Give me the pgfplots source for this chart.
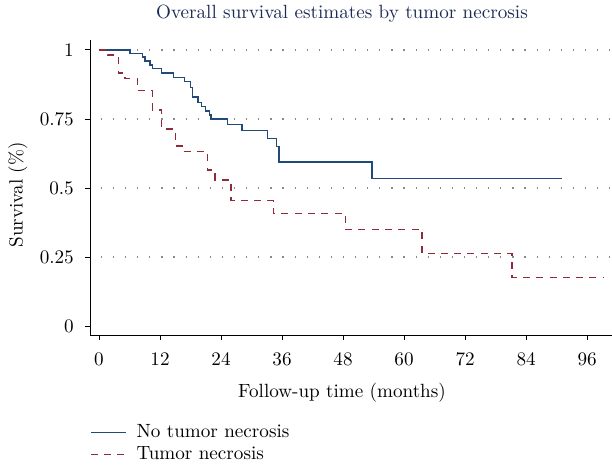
\documentclass[border=0pt]{standalone}
\usepackage{fontspec}
\setmainfont{lmroman10-regular.otf}
\usepackage{pgfplots}
\pgfplotsset{compat=1.18}
\definecolor{kmblue}{HTML}{1F4A7A}
\definecolor{kmred}{HTML}{8E2C3A}
\definecolor{titleblue}{HTML}{1C2A56}
\definecolor{dotgray}{HTML}{8A8A8A}

\pgfplotstableread{
t s
0 1
6.1 0.987
8.6 0.975
9.05 0.960
10.0 0.945
10.5 0.932
12.3 0.917
14.6 0.900
16.8 0.885
18.0 0.865
18.4 0.830
19.5 0.810
20.2 0.795
20.9 0.779
21.7 0.765
22.0 0.750
25.3 0.729
28.1 0.708
33.2 0.679
34.9 0.651
35.4 0.594
53.7 0.534
91.0 0.534
}\nonecrosis

\pgfplotstableread{
t s
0 1
1.7 0.982
3.8 0.916
5.1 0.896
7.6 0.852
10.5 0.783
12.3 0.713
15.1 0.652
16.3 0.632
21.3 0.565
22.8 0.529
26.0 0.454
34.3 0.408
48.5 0.350
63.5 0.263
81.2 0.175
99.2 0.175
}\necrosis

\begin{document}
\fontsize{19.2}{23}\selectfont
\begin{tikzpicture}
\useasboundingbox (-90bp,-137bp) rectangle (522bp,335bp);
\begin{axis}[
  at={(0bp,0bp)}, anchor=south west,
  scale only axis, width=522bp, height=295bp,
  xmin=-1.77, xmax=100.9, ymin=-0.0326, ymax=1.036,
  axis x line*=bottom, axis y line*=left,
  axis line style={line width=0.9bp, black},
  xtick={0,12,24,36,48,60,72,84,96},
  ytick={0.25,0.5,0.75,1},
  yticklabels={0.25,0.5,0.75,1},
  extra y ticks={0}, extra y tick labels={0},
  extra y tick style={grid=none},
  /pgf/number format/assume math mode=true,
  tick align=outside, major tick length=5bp,
  tick style={line width=0.9bp, black},
  ymajorgrids,
  grid style={line width=1.3bp, dotgray, dash pattern=on 1.2bp off 10.9bp, dash phase=1.2bp},
  xticklabel style={anchor=base, inner sep=0pt, yshift=-25bp},
  yticklabel style={anchor=east, inner sep=0pt, xshift=-11bp},
  xlabel={Follow-up time (months)},
  xlabel style={at={(axis description cs:0.4828,-0.2102)}, anchor=base},
  ylabel={Survival (\%)},
  ylabel style={at={(axis description cs:-0.138,0.475)}, anchor=center, rotate=0},
  title={Overall survival estimates by tumor necrosis},
  title style={at={(axis description cs:0.4828,1.0542)}, anchor=base, text=titleblue},
  legend style={draw=none, fill=none, at={(axis description cs:0,-0.300)}, anchor=north west,
    inner sep=0pt, row sep=4bp, legend cell align=left,
    nodes={inner sep=1bp},
    /tikz/every odd column/.append style={column sep=9bp}},
  legend image code/.code={\draw[#1] (0bp,0bp) -- (35bp,0bp);},
  clip=false,
]
\addplot[const plot, kmblue, line width=1.4bp] table[x=t,y=s] {\nonecrosis};
\addlegendentry{No tumor necrosis}
\addplot[const plot, kmred, line width=1.4bp, dash pattern=on 7bp off 6.3bp] table[x=t,y=s] {\necrosis};
\addlegendentry{Tumor necrosis}
\end{axis}
\end{tikzpicture}
\end{document}
